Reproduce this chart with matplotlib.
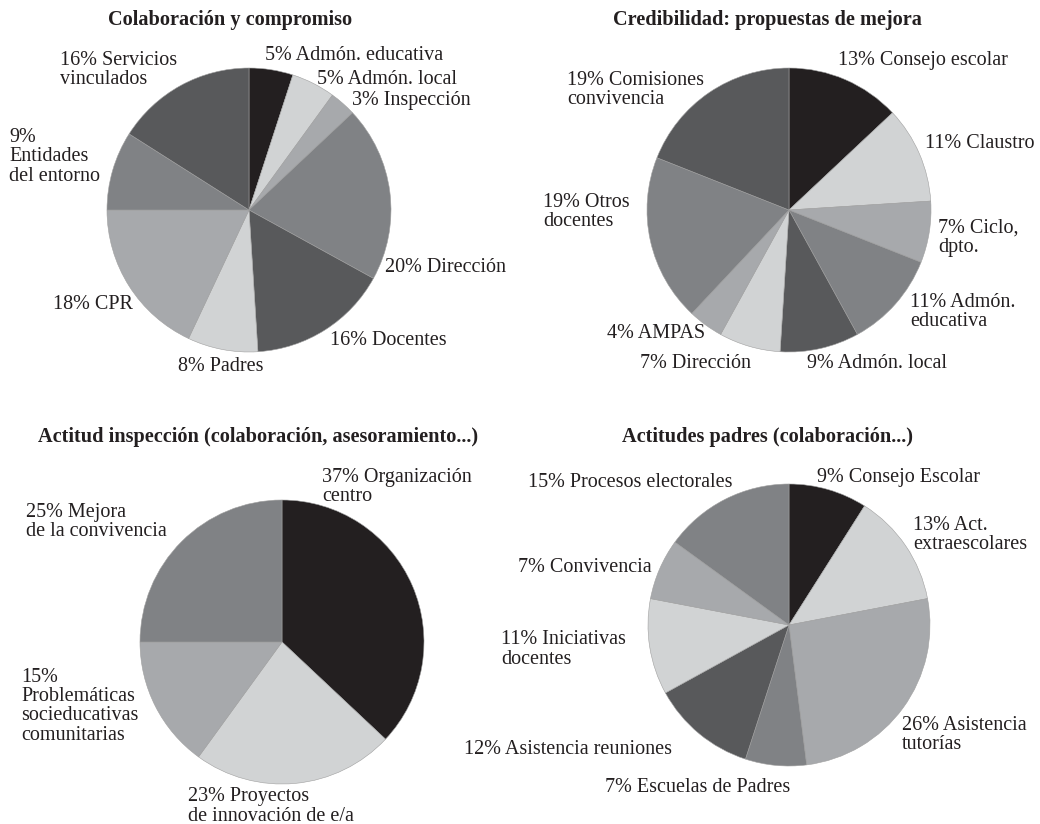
import matplotlib
matplotlib.use("Agg")
import matplotlib.pyplot as plt

# ---------------- data ----------------
titles = [
    "Colaboración y compromiso",
    "Credibilidad: propuestas de mejora",
    "Actitud inspección (colaboración, asesoramiento...)",
    "Actitudes padres (colaboración...)",
]

values1 = [5, 5, 3, 20, 16, 8, 18, 9, 16]
labels1 = ["5% Admón. educativa", "5% Admón. local", "3% Inspección",
           "20% Dirección", "16% Docentes", "8% Padres", "18% CPR",
           "9%\nEntidades\ndel entorno", "16% Servicios\nvinculados"]

values2 = [13, 11, 7, 11, 9, 7, 4, 19, 19]
labels2 = ["13% Consejo escolar", "11% Claustro", "7% Ciclo,\ndpto.",
           "11% Admón.\neducativa", "9% Admón. local", "7% Dirección",
           "4% AMPAS", "19% Otros\ndocentes", "19% Comisiones\nconvivencia"]

values3 = [37, 23, 15, 25]
labels3 = ["37% Organización\ncentro", "23% Proyectos\nde innovación de e/a",
           "15%\nProblemáticas\nsocieducativas\ncomunitarias",
           "25% Mejora\nde la convivencia"]

values4 = [9, 13, 26, 7, 12, 11, 7, 15]
labels4 = ["9% Consejo Escolar", "13% Act.\nextraescolares",
           "26% Asistencia\ntutorías", "7% Escuelas de Padres",
           "12% Asistencia reuniones", "11% Iniciativas\ndocentes",
           "7% Convivencia", "15% Procesos electorales"]

# ---------------- style ----------------
palette = ["#231f20", "#d1d3d4", "#a7a9ac", "#808285", "#58595b"]
cycle = [palette[0]] + [palette[1 + (i % 4)] for i in range(12)]

W, H = 1040, 824
fig = plt.figure(figsize=(W / 100, H / 100), dpi=100)
ax = fig.add_axes([0, 0, 1, 1])

FONT = "Liberation Serif"
LFS = 14.5
TFS = 14.6
TXT = "#231f20"

def Y(py):
    return H - py

# pie layout in pixel coordinates (cx, cy, r)
pies = [
    (values1, labels1, (249, 210, 142), titles[0], (230, 20)),
    (values2, labels2, (789, 210, 142), titles[1], (767, 20)),
    (values3, labels3, (282, 642, 142), titles[2], (258, 437)),
    (values4, labels4, (789, 625, 141), titles[3], (767, 437)),
]

# label anchor points (left x, centre y of first line) in pixels
label_pos = [
    [(265, 55), (317, 79), (352, 100), (385, 267), (330, 340), (178, 366),
     (53, 304), (9, 137), (60, 60)],
    [(838, 60), (925, 143), (938, 228), (910, 302), (807, 363), (640, 363),
     (607, 333), (543, 202), (567, 80)],
    [(322, 477), (188, 797), (21, 677), (26, 512)],
    [(817, 477), (913, 525), (902, 725), (605, 788), (464, 749), (501, 640),
     (518, 567), (528, 482)],
]

LINE = 19.5  # pixel spacing between label lines

for (vals, labs, (cx, cy, r), title, (tx, ty)), lpos in zip(pies, label_pos):
    cols = cycle[:len(vals)]
    ax.pie(vals, colors=cols, startangle=90, counterclock=False,
           center=(cx, Y(cy)), radius=r, frame=True,
           wedgeprops=dict(edgecolor="#a0a0a0", linewidth=0.4))
    ax.text(tx, Y(ty), title, fontfamily=FONT, fontsize=TFS, fontweight="bold",
            ha="center", va="center", color=TXT)
    for lab, (lx, ly) in zip(labs, lpos):
        for k, line in enumerate(lab.split("\n")):
            ax.text(lx, Y(ly + k * LINE), line, fontfamily=FONT, fontsize=LFS,
                    ha="left", va="center", color=TXT)

ax.set_xlim(0, W)
ax.set_ylim(0, H)
ax.set_aspect("equal")
ax.axis("off")
fig.savefig("out.png", dpi=100, facecolor="white")
